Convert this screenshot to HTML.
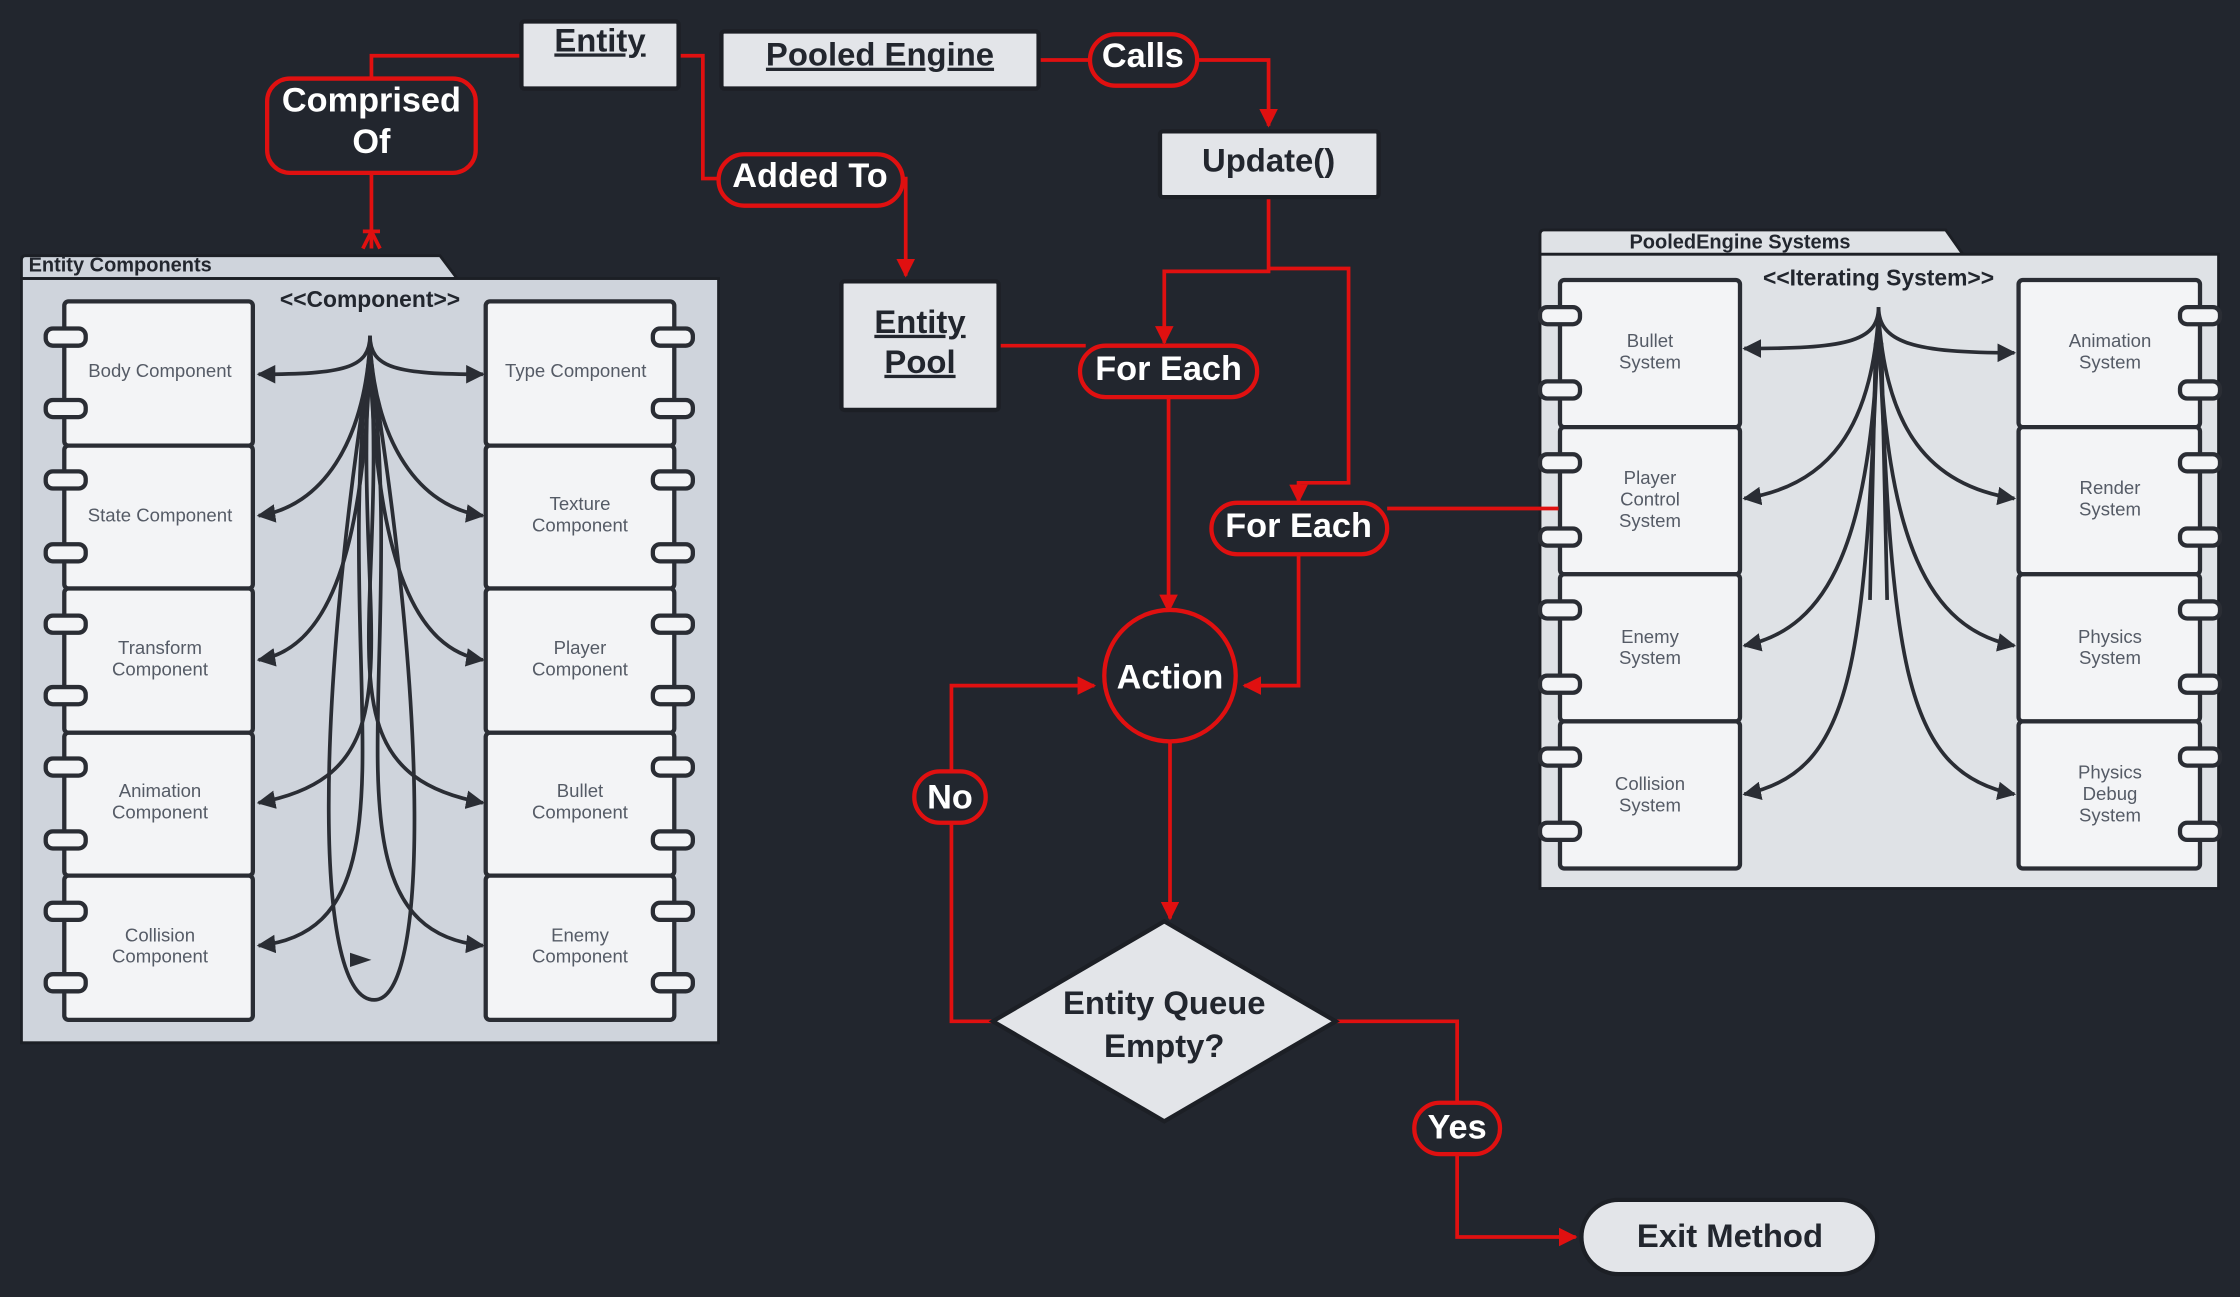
<!DOCTYPE html>
<html><head><meta charset="utf-8"><style>
html,body{margin:0;padding:0;background:#22262e;}
svg{display:block}
text{font-family:"Liberation Sans",sans-serif;}
.c{fill:#f3f4f6;stroke:#2a2d34;stroke-width:3}
.p{fill:#f3f4f6;stroke:#2a2d34;stroke-width:3}
.ct{font-size:13px;fill:#555b66;text-anchor:middle}
.k{fill:none;stroke:#2a2d34;stroke-width:2.6}
.r{fill:none;stroke:#e01010;stroke-width:2.6}
.pill{fill:#22262e;stroke:#e01010;stroke-width:3}
.pt{font-size:24px;font-weight:bold;fill:#fff;text-anchor:middle}
.bx{fill:#e3e5e9;stroke:#1c1f25;stroke-width:3}
.bt{font-size:23px;font-weight:bold;fill:#22262e;text-anchor:middle}
</style></head><body>
<svg width="2240" height="1297" viewBox="0 0 1568 908" preserveAspectRatio="none" xmlns="http://www.w3.org/2000/svg">
<defs>
<marker id="ka" viewBox="0 0 10 10" refX="9" refY="5" markerWidth="5" markerHeight="5" orient="auto"><path d="M0,0L10,5L0,10z" fill="#2a2d34"/></marker>
<marker id="ra" viewBox="0 0 10 10" refX="9" refY="5" markerWidth="5" markerHeight="5" orient="auto"><path d="M0,0L10,5L0,10z" fill="#e01010"/></marker>
</defs>
<rect width="1568" height="908" fill="#22262e"/>

<!-- Left package -->
<path d="M15,195 L15,182 Q15,179 18,179 L308,179 L320,195 Z" fill="#cfd4dc" stroke="#1c1f25" stroke-width="2"/>
<rect x="15" y="195" width="488" height="535" fill="#cfd4dc" stroke="#1c1f25" stroke-width="2"/>
<text x="20" y="190" font-size="14" font-weight="bold" fill="#22262e">Entity Components</text>
<text x="259" y="215" font-size="16" font-weight="bold" fill="#22262e" text-anchor="middle">&lt;&lt;Component&gt;&gt;</text>

<g>
<rect class="c" x="45" y="211" width="132" height="101" rx="3"/>
<rect class="c" x="45" y="312" width="132" height="100" rx="3"/>
<rect class="c" x="45" y="412" width="132" height="101" rx="3"/>
<rect class="c" x="45" y="513" width="132" height="100" rx="3"/>
<rect class="c" x="45" y="613" width="132" height="101" rx="3"/>
<rect class="c" x="340" y="211" width="132" height="101" rx="3"/>
<rect class="c" x="340" y="312" width="132" height="100" rx="3"/>
<rect class="c" x="340" y="412" width="132" height="101" rx="3"/>
<rect class="c" x="340" y="513" width="132" height="100" rx="3"/>
<rect class="c" x="340" y="613" width="132" height="101" rx="3"/>
</g>
<g class="p">
<rect class="p" x="32" y="230" width="28" height="12" rx="5"/><rect class="p" x="32" y="280" width="28" height="12" rx="5"/>
<rect class="p" x="32" y="330" width="28" height="12" rx="5"/><rect class="p" x="32" y="381" width="28" height="12" rx="5"/>
<rect class="p" x="32" y="431" width="28" height="12" rx="5"/><rect class="p" x="32" y="481" width="28" height="12" rx="5"/>
<rect class="p" x="32" y="531" width="28" height="12" rx="5"/><rect class="p" x="32" y="582" width="28" height="12" rx="5"/>
<rect class="p" x="32" y="632" width="28" height="12" rx="5"/><rect class="p" x="32" y="682" width="28" height="12" rx="5"/>
<rect class="p" x="457" y="230" width="28" height="12" rx="5"/><rect class="p" x="457" y="280" width="28" height="12" rx="5"/>
<rect class="p" x="457" y="330" width="28" height="12" rx="5"/><rect class="p" x="457" y="381" width="28" height="12" rx="5"/>
<rect class="p" x="457" y="431" width="28" height="12" rx="5"/><rect class="p" x="457" y="481" width="28" height="12" rx="5"/>
<rect class="p" x="457" y="531" width="28" height="12" rx="5"/><rect class="p" x="457" y="582" width="28" height="12" rx="5"/>
<rect class="p" x="457" y="632" width="28" height="12" rx="5"/><rect class="p" x="457" y="682" width="28" height="12" rx="5"/>
</g>
<g class="ct">
<text x="112" y="264">Body Component</text>
<text x="112" y="365">State Component</text>
<text x="112" y="458">Transform</text><text x="112" y="473">Component</text>
<text x="112" y="558">Animation</text><text x="112" y="573">Component</text>
<text x="112" y="659">Collision</text><text x="112" y="674">Component</text>
<text x="403" y="264">Type Component</text>
<text x="406" y="357">Texture</text><text x="406" y="372">Component</text>
<text x="406" y="458">Player</text><text x="406" y="473">Component</text>
<text x="406" y="558">Bullet</text><text x="406" y="573">Component</text>
<text x="406" y="659">Enemy</text><text x="406" y="674">Component</text>
</g>
<g class="k">
<path d="M259,235 C259,258 240,262 181,262" marker-end="url(#ka)"/>
<path d="M259,235 C259,258 278,262 338,262" marker-end="url(#ka)"/>
<path d="M259,240 C255,310 225,355 181,361" marker-end="url(#ka)"/>
<path d="M259,240 C263,310 293,355 338,361" marker-end="url(#ka)"/>
<path d="M259,245 C255,400 225,455 181,462" marker-end="url(#ka)"/>
<path d="M259,245 C263,400 293,455 338,462" marker-end="url(#ka)"/>
<path d="M259,245 C245,440 300,540 181,562" marker-end="url(#ka)"/>
<path d="M259,245 C273,440 218,540 338,562" marker-end="url(#ka)"/>
<path d="M259,245 C230,470 300,650 181,662" marker-end="url(#ka)"/>
<path d="M259,245 C288,470 218,650 338,662" marker-end="url(#ka)"/>
<path d="M259,250 C220,500 220,700 262,700 C300,700 300,500 259,250"/>
</g>
<path d="M245,667 L260,672 L245,677Z" fill="#2a2d34"/>

<!-- Right package -->
<path d="M1078,178 L1078,164 Q1078,161 1081,161 L1362,161 L1374,178 Z" fill="#dfe2e6" stroke="#1c1f25" stroke-width="2"/>
<rect x="1078" y="178" width="475" height="444" fill="#dfe2e6" stroke="#1c1f25" stroke-width="2"/>
<text x="1218" y="174" font-size="14" font-weight="bold" fill="#22262e" text-anchor="middle">PooledEngine Systems</text>
<text x="1315" y="200" font-size="16" font-weight="bold" fill="#22262e" text-anchor="middle">&lt;&lt;Iterating System&gt;&gt;</text>
<rect class="c" x="1092" y="196" width="126" height="103" rx="3"/>
<rect class="c" x="1092" y="299" width="126" height="103" rx="3"/>
<rect class="c" x="1092" y="402" width="126" height="103" rx="3"/>
<rect class="c" x="1092" y="505" width="126" height="103" rx="3"/>
<rect class="c" x="1413" y="196" width="127" height="103" rx="3"/>
<rect class="c" x="1413" y="299" width="127" height="103" rx="3"/>
<rect class="c" x="1413" y="402" width="127" height="103" rx="3"/>
<rect class="c" x="1413" y="505" width="127" height="103" rx="3"/>
<rect class="p" x="1078" y="215" width="28" height="12" rx="5"/><rect class="p" x="1078" y="267" width="28" height="12" rx="5"/>
<rect class="p" x="1078" y="318" width="28" height="12" rx="5"/><rect class="p" x="1078" y="370" width="28" height="12" rx="5"/>
<rect class="p" x="1078" y="421" width="28" height="12" rx="5"/><rect class="p" x="1078" y="473" width="28" height="12" rx="5"/>
<rect class="p" x="1078" y="524" width="28" height="12" rx="5"/><rect class="p" x="1078" y="576" width="28" height="12" rx="5"/>
<rect class="p" x="1526" y="215" width="28" height="12" rx="5"/><rect class="p" x="1526" y="267" width="28" height="12" rx="5"/>
<rect class="p" x="1526" y="318" width="28" height="12" rx="5"/><rect class="p" x="1526" y="370" width="28" height="12" rx="5"/>
<rect class="p" x="1526" y="421" width="28" height="12" rx="5"/><rect class="p" x="1526" y="473" width="28" height="12" rx="5"/>
<rect class="p" x="1526" y="524" width="28" height="12" rx="5"/><rect class="p" x="1526" y="576" width="28" height="12" rx="5"/>
<g class="ct">
<text x="1155" y="243">Bullet</text><text x="1155" y="258">System</text>
<text x="1155" y="339">Player</text><text x="1155" y="354">Control</text><text x="1155" y="369">System</text>
<text x="1155" y="450">Enemy</text><text x="1155" y="465">System</text>
<text x="1155" y="553">Collision</text><text x="1155" y="568">System</text>
<text x="1477" y="243">Animation</text><text x="1477" y="258">System</text>
<text x="1477" y="346">Render</text><text x="1477" y="361">System</text>
<text x="1477" y="450">Physics</text><text x="1477" y="465">System</text>
<text x="1477" y="545">Physics</text><text x="1477" y="560">Debug</text><text x="1477" y="575">System</text>
</g>
<g class="k">
<path d="M1315,215 C1315,240 1290,244 1221,244" marker-end="url(#ka)"/>
<path d="M1315,215 C1315,240 1340,247 1410,247" marker-end="url(#ka)"/>
<path d="M1315,220 C1310,300 1280,340 1221,349" marker-end="url(#ka)"/>
<path d="M1315,220 C1320,300 1350,340 1410,349" marker-end="url(#ka)"/>
<path d="M1315,225 C1310,380 1280,440 1221,452" marker-end="url(#ka)"/>
<path d="M1315,225 C1320,380 1350,440 1410,452" marker-end="url(#ka)"/>
<path d="M1315,225 C1305,460 1300,540 1221,556" marker-end="url(#ka)"/>
<path d="M1315,225 C1325,460 1330,540 1410,556" marker-end="url(#ka)"/>
<path d="M1313,240 L1309,420 M1317,240 L1321,420"/>
</g>

<!-- Red connectors -->
<g class="r">
<path d="M365,39 L260,39 L260,57"/>
<path d="M260,121 L260,174"/>
<path d="M254,162 L266,162 M260,162 L254,174 M260,162 L266,174"/>
<path d="M475,39 L492,39 L492,125 L503,125"/>
<path d="M632,125 L634,125 L634,193" marker-end="url(#ra)"/>
<path d="M727,42 L763,42"/>
<path d="M838,42 L888,42 L888,88" marker-end="url(#ra)"/>
<path d="M888,138 L888,190 L815,190 L815,240" marker-end="url(#ra)"/>
<path d="M888,188 L944,188 L944,338 L909,338 L909,351" marker-end="url(#ra)"/>
<path d="M699,242 L760,242"/>
<path d="M818,278 L818,428" marker-end="url(#ra)"/>
<path d="M971,356 L1091,356"/>
<path d="M909,388 L909,480 L871,480" marker-end="url(#ra)"/>
<path d="M819,518 L819,643" marker-end="url(#ra)"/>
<path d="M695,715 L666,715 L666,576"/>
<path d="M666,540 L666,480 L766,480" marker-end="url(#ra)"/>
<path d="M935,715 L1020,715 L1020,772"/>
<path d="M1020,808 L1020,866 L1103,866" marker-end="url(#ra)"/>
</g>

<!-- Boxes -->
<rect class="bx" x="365" y="15" width="110" height="47" rx="2"/>
<text class="bt" x="420" y="36" text-decoration="underline">Entity</text>
<rect class="bx" x="505" y="22" width="222" height="40" rx="2"/>
<text class="bt" x="616" y="46" font-size="22" text-decoration="underline">Pooled Engine</text>
<rect class="bx" x="812" y="92" width="153" height="46" rx="2"/>
<text class="bt" x="888" y="120">Update()</text>
<rect class="bx" x="589" y="197" width="110" height="90" rx="2"/>
<text class="bt" x="644" y="233" text-decoration="underline">Entity</text>
<text class="bt" x="644" y="261" text-decoration="underline">Pool</text>

<!-- Pills -->
<rect class="pill" x="187" y="55" width="146" height="66" rx="16"/>
<text class="pt" x="260" y="78">Comprised</text><text class="pt" x="260" y="107">Of</text>
<rect class="pill" x="503" y="108" width="129" height="36" rx="18"/>
<text class="pt" x="567" y="131">Added To</text>
<rect class="pill" x="763" y="24" width="75" height="36" rx="18"/>
<text class="pt" x="800" y="47">Calls</text>
<rect class="pill" x="756" y="242" width="124" height="36" rx="18"/>
<text class="pt" x="818" y="266">For Each</text>
<rect class="pill" x="848" y="352" width="123" height="36" rx="18"/>
<text class="pt" x="909" y="376">For Each</text>
<circle cx="819" cy="473" r="46" fill="#22262e" stroke="#e01010" stroke-width="3"/>
<text class="pt" x="819" y="482">Action</text>
<rect class="pill" x="640" y="540" width="50" height="36" rx="18"/>
<text class="pt" x="665" y="566">No</text>
<rect class="pill" x="990" y="772" width="60" height="36" rx="18"/>
<text class="pt" x="1020" y="797">Yes</text>

<path d="M815,645 L935,715 L815,785 L695,715 Z" fill="#e3e5e9" stroke="#1c1f25" stroke-width="3"/>
<text class="bt" x="815" y="710" font-size="24">Entity Queue</text>
<text class="bt" x="815" y="740" font-size="24">Empty?</text>
<rect x="1107" y="840" width="207" height="52" rx="26" fill="#e3e5e9" stroke="#1c1f25" stroke-width="3"/>
<text class="bt" x="1211" y="873" font-size="24">Exit Method</text>
</svg>
</body></html>
